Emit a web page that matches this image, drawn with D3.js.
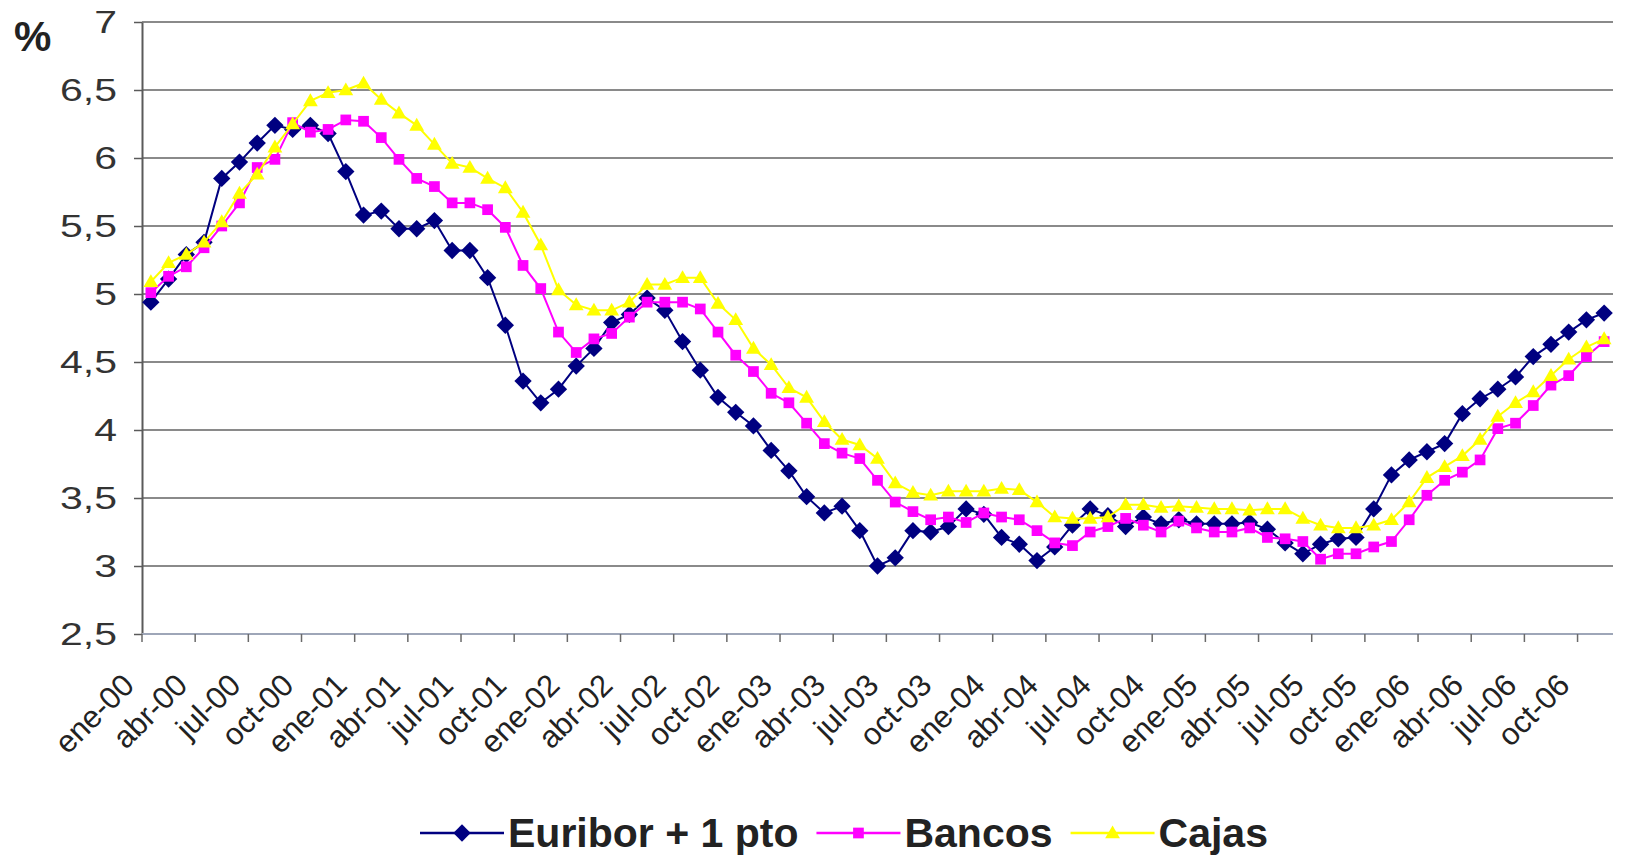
<!DOCTYPE html>
<html>
<head>
<meta charset="utf-8">
<script src="https://cdn.jsdelivr.net/npm/d3@7"></script>
<style>
  html, body { margin: 0; padding: 0; background: #ffffff; }
  svg { display: block; }
</style>
</head>
<body>
<svg id="chart" width="1627" height="857"></svg>
<script>
// Monthly categories, January 2000 to November 2006
const categories = [
  "ene-00","feb-00","mar-00","abr-00","may-00","jun-00","jul-00","ago-00","sep-00","oct-00","nov-00","dic-00",
  "ene-01","feb-01","mar-01","abr-01","may-01","jun-01","jul-01","ago-01","sep-01","oct-01","nov-01","dic-01",
  "ene-02","feb-02","mar-02","abr-02","may-02","jun-02","jul-02","ago-02","sep-02","oct-02","nov-02","dic-02",
  "ene-03","feb-03","mar-03","abr-03","may-03","jun-03","jul-03","ago-03","sep-03","oct-03","nov-03","dic-03",
  "ene-04","feb-04","mar-04","abr-04","may-04","jun-04","jul-04","ago-04","sep-04","oct-04","nov-04","dic-04",
  "ene-05","feb-05","mar-05","abr-05","may-05","jun-05","jul-05","ago-05","sep-05","oct-05","nov-05","dic-05",
  "ene-06","feb-06","mar-06","abr-06","may-06","jun-06","jul-06","ago-06","sep-06","oct-06","nov-06"
];

// Quarterly labels shown on the category axis
const tickLabels = [
  "ene-00","abr-00","jul-00","oct-00","ene-01","abr-01","jul-01","oct-01",
  "ene-02","abr-02","jul-02","oct-02","ene-03","abr-03","jul-03","oct-03",
  "ene-04","abr-04","jul-04","oct-04","ene-05","abr-05","jul-05","oct-05",
  "ene-06","abr-06","jul-06","oct-06"
];

const yTicks = [2.5, 3, 3.5, 4, 4.5, 5, 5.5, 6, 6.5, 7];

// Rates, %
const euribor = [
  4.94, 5.11, 5.29, 5.38, 5.85, 5.97, 6.11, 6.24, 6.21, 6.24, 6.18, 5.90,
  5.58, 5.61, 5.48, 5.48, 5.54, 5.32, 5.32, 5.12, 4.77, 4.36, 4.20, 4.30,
  4.47, 4.60, 4.79, 4.85, 4.97, 4.88, 4.65, 4.44, 4.24, 4.13, 4.03, 3.85,
  3.70, 3.51, 3.39, 3.44, 3.26, 3.00, 3.06, 3.26, 3.25, 3.29, 3.42, 3.38,
  3.21, 3.16, 3.04, 3.14, 3.30, 3.42, 3.37, 3.29, 3.36, 3.31, 3.34, 3.31,
  3.31, 3.31, 3.32, 3.27, 3.17, 3.09, 3.16, 3.20, 3.21, 3.42, 3.67, 3.78,
  3.84, 3.90, 4.12, 4.23, 4.30, 4.39, 4.54, 4.63, 4.72, 4.81, 4.86
];

const bancos = [
  5.01, 5.13, 5.20, 5.34, 5.50, 5.67, 5.93, 5.99, 6.26, 6.19, 6.21, 6.28,
  6.27, 6.15, 5.99, 5.85, 5.79, 5.67, 5.67, 5.62, 5.49, 5.21, 5.04, 4.72,
  4.57, 4.67, 4.71, 4.83, 4.94, 4.94, 4.94, 4.89, 4.72, 4.55, 4.43, 4.27,
  4.20, 4.05, 3.90, 3.83, 3.79, 3.63, 3.47, 3.40, 3.34, 3.36, 3.32, 3.39,
  3.36, 3.34, 3.26, 3.17, 3.15, 3.25, 3.29, 3.35, 3.30, 3.25, 3.33, 3.28,
  3.25, 3.25, 3.28, 3.21, 3.20, 3.18, 3.05, 3.09, 3.09, 3.14, 3.18, 3.34,
  3.52, 3.63, 3.69, 3.78, 4.01, 4.05, 4.18, 4.33, 4.40, 4.54, 4.65
];

const cajas = [
  5.09, 5.23, 5.29, 5.38, 5.53, 5.74, 5.88, 6.08, 6.25, 6.42, 6.48, 6.50,
  6.55, 6.43, 6.33, 6.24, 6.10, 5.96, 5.93, 5.85, 5.78, 5.60, 5.36, 5.03,
  4.92, 4.88, 4.88, 4.94, 5.07, 5.07, 5.12, 5.12, 4.93, 4.81, 4.60, 4.48,
  4.31, 4.24, 4.06, 3.93, 3.89, 3.79, 3.61, 3.54, 3.52, 3.55, 3.55, 3.55,
  3.57, 3.56, 3.47, 3.36, 3.35, 3.35, 3.36, 3.45, 3.45, 3.43, 3.44, 3.43,
  3.42, 3.42, 3.41, 3.42, 3.42, 3.35, 3.30, 3.28, 3.28, 3.30, 3.34, 3.47,
  3.65, 3.73, 3.81, 3.93, 4.10, 4.20, 4.28, 4.40, 4.52, 4.61, 4.67
];

const seriesNames = ["Euribor + 1 pto", "Bancos", "Cajas"];
const seriesColors = ["#000080", "#ff00ff", "#ffff00"];
const seriesMarkers = ["diamond", "square", "triangle"];
const seriesValues = [euribor, bancos, cajas];

// ---- layout ----
const plot = { left: 142, right: 1613, top: 22, bottom: 634 };
const svg = d3.select("#chart");
const font = "'Liberation Sans', Arial, sans-serif";

const x = d3.scaleBand().domain(categories).range([plot.left, plot.right]).padding(0);
const y = d3.scaleLinear().domain([2.5, 7]).range([plot.bottom, plot.top]);
const cx = c => x(c) + x.bandwidth() / 2;

// horizontal gridlines
svg.append("g").selectAll("line")
  .data(yTicks.filter(v => v > 2.5))
  .join("line")
  .attr("x1", plot.left).attr("x2", plot.right)
  .attr("y1", d => y(d)).attr("y2", d => y(d))
  .attr("stroke", "#8a8a8a").attr("stroke-width", 2);

// value axis
const yAxis = d3.axisLeft(y)
  .tickValues(yTicks)
  .tickSize(8)
  .tickSizeOuter(0)
  .tickPadding(17)
  .tickFormat(d => String(d).replace(".", ","));
const gy = svg.append("g").attr("transform", `translate(${plot.left},0)`).call(yAxis);
gy.select(".domain").attr("stroke", "#5a5a5a").attr("stroke-width", 2);
gy.selectAll(".tick line").attr("stroke", "#5a5a5a").attr("stroke-width", 1.5);
// labels are drawn slightly wide, anchored at their right edge
gy.selectAll(".tick text")
  .attr("x", 0)
  .attr("transform", "translate(-25,0) scale(1.28,1)")
  .attr("font-family", font).attr("font-size", 32).attr("fill", "#333333");

// category axis baseline and quarterly ticks
svg.append("line")
  .attr("x1", plot.left).attr("x2", plot.right)
  .attr("y1", plot.bottom).attr("y2", plot.bottom)
  .attr("stroke", "#9ea6b8").attr("stroke-width", 2);

svg.append("g").selectAll("line")
  .data(tickLabels)
  .join("line")
  .attr("x1", d => x(d)).attr("x2", d => x(d))
  .attr("y1", plot.bottom).attr("y2", plot.bottom + 8)
  .attr("stroke", "#6a6a6a").attr("stroke-width", 1.5);

svg.append("g").selectAll("text")
  .data(tickLabels)
  .join("text")
  .attr("transform", d => `translate(${x(d) - 6},${plot.bottom + 53}) rotate(-45)`)
  .attr("text-anchor", "end")
  .attr("font-family", font).attr("font-size", 31).attr("fill", "#222222")
  .text(d => d);

// "%" unit label
svg.append("text")
  .attr("x", 14).attr("y", 51)
  .attr("font-family", font).attr("font-size", 42).attr("font-weight", "bold")
  .attr("fill", "#222222")
  .text("%");

// markers
function markerPath(kind) {
  if (kind === "diamond") return d3.symbol(d3.symbolSquare, 150)();
  if (kind === "square") return d3.symbol(d3.symbolSquare, 115)();
  return d3.symbol(d3.symbolTriangle, 95)();
}
function markerTransform(kind, px, py) {
  return kind === "diamond"
    ? `translate(${px},${py}) rotate(45)`
    : `translate(${px},${py + (kind === "triangle" ? 1 : 0)})`;
}

const line = d3.line()
  .x((d, i) => cx(categories[i]))
  .y(d => y(d));

seriesValues.forEach((vals, s) => {
  const g = svg.append("g");
  g.append("path")
    .attr("d", line(vals))
    .attr("fill", "none")
    .attr("stroke", seriesColors[s])
    .attr("stroke-width", 2);
  g.selectAll("path.mk")
    .data(vals)
    .join("path")
    .attr("class", "mk")
    .attr("d", markerPath(seriesMarkers[s]))
    .attr("transform", (d, i) => markerTransform(seriesMarkers[s], cx(categories[i]), y(d)))
    .attr("fill", seriesColors[s]);
});

// legend
const legend = svg.append("g");
let lx = 420;
const ly = 833;
seriesNames.forEach((name, s) => {
  const item = legend.append("g");
  item.append("line")
    .attr("x1", lx).attr("x2", lx + 84)
    .attr("y1", ly).attr("y2", ly)
    .attr("stroke", seriesColors[s]).attr("stroke-width", 2.5);
  item.append("path")
    .attr("d", markerPath(seriesMarkers[s]))
    .attr("transform", markerTransform(seriesMarkers[s], lx + 42, ly))
    .attr("fill", seriesColors[s]);
  const t = item.append("text")
    .attr("x", lx + 88).attr("y", ly + 14)
    .attr("font-family", font).attr("font-size", 41).attr("font-weight", "bold")
    .attr("fill", "#222222")
    .text(name);
  lx = lx + 88 + t.node().getComputedTextLength() + 18;
});
</script>
</body>
</html>
